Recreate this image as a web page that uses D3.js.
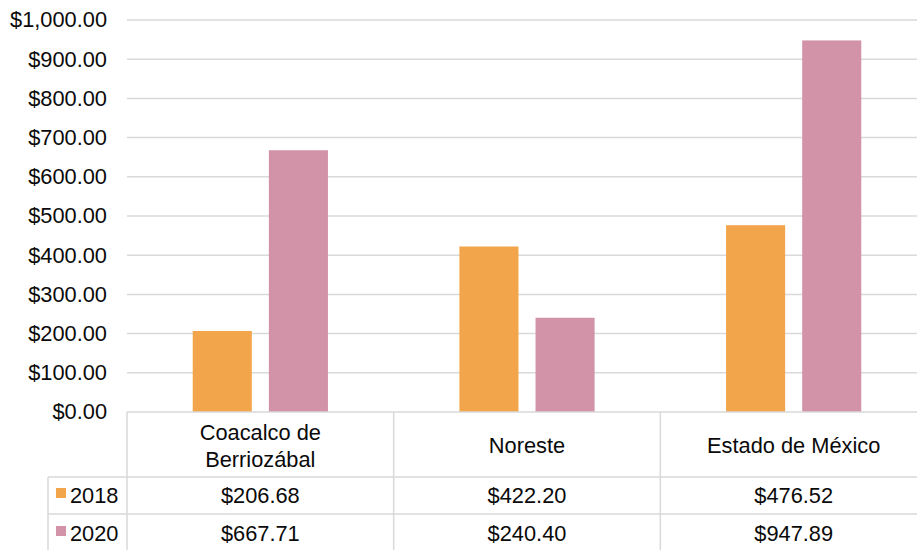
<!DOCTYPE html>
<html>
<head>
<meta charset="utf-8">
<script src="https://cdn.jsdelivr.net/npm/d3@7"></script>
<style>
  html, body { margin: 0; padding: 0; background: #fff; }
  svg { display: block; font-family: "Liberation Sans", Arial, sans-serif; }
</style>
</head>
<body>
<svg id="chart" width="917" height="550"></svg>
<script>
// Categories, series and values
const categories = [["Coacalco de", "Berriozábal"], ["Noreste"], ["Estado de México"]];
const seriesNames = ["2018", "2020"];
const values2018 = [206.68, 422.20, 476.52];
const values2020 = [667.71, 240.40, 947.89];
const yTicks = [0, 100, 200, 300, 400, 500, 600, 700, 800, 900, 1000];
const colors = ["#F2A54A", "#D292A8"];

const seriesValues = [values2018, values2020];
const catKeys = categories.map(c => c.join(" "));

const svg = d3.select("#chart");
const fontSize = 21.8;
const textColor = "#0a0a0a";
const gridColor = "#d9d9d9";

const plotLeft = 127, plotRight = 927, plotTop = 20, plotBottom = 412;

const x = d3.scaleBand().domain(catKeys).range([plotLeft, plotRight]).padding(0);
const bw = x.bandwidth();
const xs = d3.scaleBand().domain(seriesNames)
  .range([bw * 0.2465, bw * 0.7535]).paddingInner(0.224).paddingOuter(0);
const y = d3.scaleLinear().domain([0, 1000]).range([plotBottom, plotTop]);

const fmt = d3.format("$,.2f");

// Gridlines
svg.append("g").selectAll("line").data(yTicks.filter(d => d > 0)).join("line")
  .attr("x1", plotLeft).attr("x2", plotRight)
  .attr("y1", d => y(d)).attr("y2", d => y(d))
  .attr("stroke", gridColor).attr("stroke-width", 1.5);

// Y axis labels
const yAxis = d3.axisLeft(y).tickValues(yTicks).tickFormat(fmt).tickSize(0).tickPadding(20);
const gy = svg.append("g").attr("transform", `translate(${plotLeft},0)`).call(yAxis);
gy.select(".domain").remove();
gy.selectAll("text").attr("font-size", fontSize).attr("fill", textColor)
  .attr("font-family", "Liberation Sans, Arial, sans-serif");

// Bars
seriesNames.forEach((s, si) => {
  svg.append("g").selectAll("rect").data(catKeys).join("rect")
    .attr("x", (d) => x(d) + xs(s))
    .attr("width", xs.bandwidth())
    .attr("y", (d, i) => y(seriesValues[si][i]))
    .attr("height", (d, i) => y(0) - y(seriesValues[si][i]))
    .attr("fill", colors[si]);
});

// Data table
const rowTop = plotBottom, row1 = 477, row2 = 514, rowEnd = 560;
const legendLeft = 48;
const tbl = svg.append("g").attr("stroke", gridColor).attr("stroke-width", 1.5);
tbl.append("line").attr("x1", plotLeft).attr("x2", plotRight).attr("y1", rowTop).attr("y2", rowTop);
[row1, row2].forEach(r => tbl.append("line").attr("x1", legendLeft).attr("x2", plotRight).attr("y1", r).attr("y2", r));
tbl.append("line").attr("x1", legendLeft).attr("x2", legendLeft).attr("y1", row1).attr("y2", rowEnd);
[plotLeft, ...catKeys.slice(1).map(k => x(k))].forEach(v =>
  tbl.append("line").attr("x1", v).attr("x2", v).attr("y1", rowTop).attr("y2", rowEnd));

// Category labels
const catG = svg.append("g").attr("font-size", fontSize).attr("fill", textColor).attr("text-anchor", "middle");
categories.forEach((lines, i) => {
  const cx = x(catKeys[i]) + bw / 2;
  const lh = 27;
  const mid = 453;
  const first = mid - (lines.length - 1) * lh / 2;
  const t = catG.append("text").attr("x", cx);
  lines.forEach((ln, li) => t.append("tspan").attr("x", cx).attr("y", first + li * lh).text(ln));
});

// Value rows with legend keys
const rowBaselines = [503, 541];
seriesNames.forEach((s, si) => {
  svg.append("rect").attr("x", 56).attr("y", rowBaselines[si] - 15)
    .attr("width", 10).attr("height", 10).attr("fill", colors[si]);
  svg.append("text").attr("x", 70).attr("y", rowBaselines[si])
    .attr("font-size", fontSize).attr("fill", textColor).text(s);
  svg.append("g").selectAll("text").data(catKeys).join("text")
    .attr("x", d => x(d) + bw / 2).attr("y", rowBaselines[si])
    .attr("text-anchor", "middle").attr("font-size", fontSize).attr("fill", textColor)
    .text((d, i) => fmt(seriesValues[si][i]));
});
</script>
</body>
</html>
